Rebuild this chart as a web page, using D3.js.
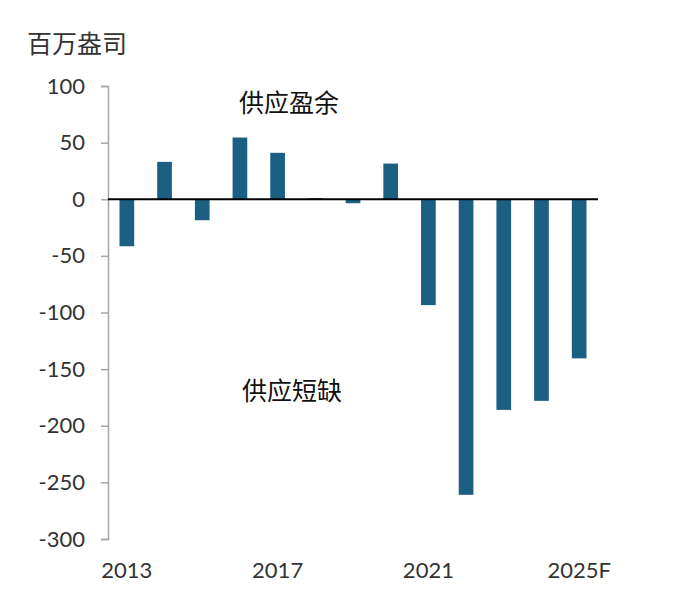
<!DOCTYPE html>
<html>
<head>
<meta charset="utf-8">
<script src="https://cdn.jsdelivr.net/npm/d3@7"></script>
<style>
  html, body { margin: 0; padding: 0; background: #fff; }
  svg { display: block; }
</style>
</head>
<body>
<svg id="chart" width="700" height="596"></svg>
<script>
const categories = ["2013","2014","2015","2016","2017","2018","2019","2020","2021","2022","2023","2024","2025F"];
const values = [-41.5, 33, -18.5, 54.5, 41, 1, -3.5, 31.5, -93.5, -261, -186, -178, -140.5];
const yTicks = [100, 50, 0, -50, -100, -150, -200, -250, -300];
const xTickLabels = ["2013", "2017", "2021", "2025F"];
const unitLabel = "百万盎司";
const surplusLabel = "供应盈余";
const deficitLabel = "供应短缺";

const svg = d3.select("#chart");
const latin = "Lato, 'Open Sans', sans-serif";
const cjk = "'Noto Sans CJK SC', sans-serif";

const x = d3.scaleBand()
  .domain(categories)
  .range([108, 598])
  .paddingInner(0.61)
  .paddingOuter(0.305);

const y = d3.scaleLinear()
  .domain([-300, 100])
  .range([539, 86]);

// Y axis
const yAxis = d3.axisLeft(y)
  .tickValues(yTicks)
  .tickFormat(d => String(d))
  .tickSize(7)
  .tickSizeOuter(7)
  .tickPadding(16);

const gy = svg.append("g")
  .attr("transform", "translate(108,0)")
  .call(yAxis);
gy.select(".domain").attr("stroke", "#a6a6a6").attr("stroke-width", 1.5);
gy.selectAll(".tick line").attr("stroke", "#a6a6a6").attr("stroke-width", 1.5);
gy.selectAll(".tick text")
  .attr("fill", "#333")
  .style("font-family", latin)
  .style("font-size", "22px");

// Bars
svg.append("g")
  .selectAll("rect")
  .data(categories.map((c, i) => ({c, v: values[i]})))
  .join("rect")
  .attr("x", d => x(d.c))
  .attr("width", x.bandwidth())
  .attr("y", d => y(Math.max(0, d.v)))
  .attr("height", d => Math.abs(y(d.v) - y(0)))
  .attr("fill", "#1b6083");

// Zero line
svg.append("line")
  .attr("x1", 108)
  .attr("x2", 598)
  .attr("y1", y(0))
  .attr("y2", y(0))
  .attr("stroke", "#000")
  .attr("stroke-width", 2);

// X labels
const xAxis = d3.axisBottom(x)
  .tickValues(xTickLabels)
  .tickSize(0)
  .tickPadding(0);
const gx = svg.append("g")
  .attr("transform", "translate(0,562)")
  .call(xAxis);
gx.select(".domain").remove();
gx.selectAll(".tick text")
  .attr("dy", "0.71em")
  .attr("fill", "#333")
  .style("font-family", latin)
  .style("font-size", "22px");

// Unit label
svg.append("text")
  .attr("x", 27)
  .attr("y", 53)
  .attr("fill", "#333")
  .style("font-family", cjk)
  .style("font-size", "25px")
  .text(unitLabel);

// Annotations
svg.append("text")
  .attr("x", 289)
  .attr("y", 112)
  .attr("text-anchor", "middle")
  .attr("fill", "#111")
  .style("font-family", cjk)
  .style("font-size", "25px")
  .text(surplusLabel);

svg.append("text")
  .attr("x", 292)
  .attr("y", 400)
  .attr("text-anchor", "middle")
  .attr("fill", "#111")
  .style("font-family", cjk)
  .style("font-size", "25px")
  .text(deficitLabel);
</script>
</body>
</html>
